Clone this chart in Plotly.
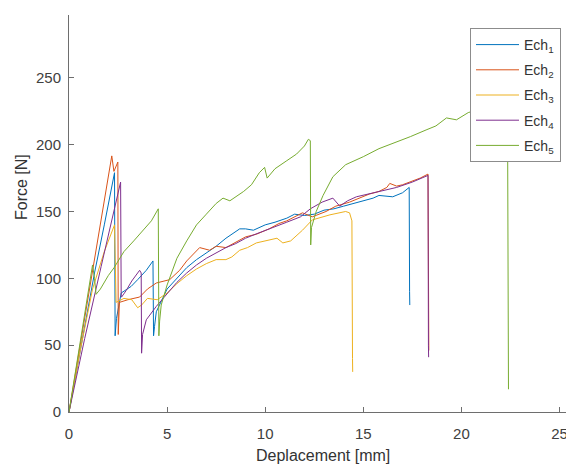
import plotly.graph_objects as go

# ---- data ----
names = ["Ech<sub>1</sub>", "Ech<sub>2</sub>", "Ech<sub>3</sub>", "Ech<sub>4</sub>", "Ech<sub>5</sub>"]
colors = ["#0072BD", "#D95319", "#EDB120", "#7E2F8E", "#77AC30"]

ech1_x = [0, 0.6, 1.3, 1.8, 2.32, 2.35, 2.42, 2.66, 3.17, 3.5, 3.94, 4.28, 4.31, 4.36, 4.45, 5.0, 5.5, 6.0,
          6.5, 7.0, 7.5, 8.0, 8.5, 8.7, 9.0, 9.4, 10.0, 10.5, 11.1, 11.5, 12.0, 12.5, 13.0, 13.5, 14.0, 14.5,
          15.0, 15.5, 15.8, 16.5, 17.0, 17.34, 17.36, 17.37]
ech1_y = [0, 48, 104, 140, 179, 57, 70, 89, 94, 99, 106, 113, 57, 64, 75, 92, 100, 108,
          114, 119, 124, 130, 135, 137, 137, 136, 140, 142, 145, 148, 147, 148, 151, 152, 154, 156,
          158, 160, 162, 161, 164, 168, 90, 80]

ech2_x = [0, 0.6, 1.2, 1.8, 2.18, 2.29, 2.49, 2.51, 2.54, 2.57, 3.0, 3.6, 4.0, 4.45, 5.13, 5.64, 6.0, 6.66,
          7.17, 7.5, 8.0, 8.5, 9.0, 9.55, 10.2, 10.7, 11.1, 11.9, 12.4, 13.1, 13.6, 14.3, 14.8, 15.3, 15.8,
          16.2, 16.35, 16.7, 17.0, 17.4, 17.9, 18.3, 18.32, 18.33, 18.34]
ech2_y = [0, 53, 106, 158, 191.6, 180, 187, 58, 70, 82, 84, 86, 92, 96.5, 99, 106, 113, 123,
          121, 124, 123, 127, 131, 133, 137, 141, 143, 149, 146, 150, 154, 157, 160, 163, 165,
          168, 171, 169, 170, 172, 175, 178, 60, 65, 46]

ech3_x = [0, 0.6, 1.2, 1.8, 2.32, 2.36, 2.4, 2.8, 3.2, 3.5, 3.7, 4.0, 4.5, 5.0, 5.5, 6.0, 6.5, 7.0, 7.5,
          8.0, 8.3, 8.7, 9.1, 9.55, 10.2, 10.6, 10.9, 11.3, 11.9, 12.4, 13.3, 14.1, 14.3, 14.42, 14.45, 14.46]
ech3_y = [0, 48, 92, 120, 140, 110, 82, 85, 84, 78, 80, 85, 84, 89, 96, 102, 107, 111, 114,
          114, 116, 121, 123, 126.5, 129, 130, 126.5, 128, 136, 143.7, 147.5, 150, 149, 143, 40, 30]

ech4_x = [0, 0.8, 1.64, 2.2, 2.63, 2.66, 2.68, 2.92, 3.2, 3.5, 3.6, 3.68, 3.7, 3.75, 3.94, 4.45, 5.0, 5.5,
          6.0, 6.5, 7.0, 7.5, 8.0, 8.5, 9.0, 9.5, 10.0, 10.6, 11.1, 11.8, 12.3, 12.9, 13.45, 13.8, 14.2,
          14.65, 15.2, 15.84, 16.7, 17.5, 18.3, 18.32, 18.33]
ech4_y = [0, 55, 109, 145, 172, 86, 86, 91, 98, 104, 106, 104, 44, 58, 69, 79, 88, 97,
          104, 110, 115, 119, 123, 126, 130, 133, 136, 139, 142, 146, 152, 157, 160, 154, 158,
          161, 163, 165, 168, 172, 177, 50, 41]

ech5_x = [0, 0.6, 1.2, 1.3, 1.38, 1.6, 2.0, 2.3, 2.8, 3.3, 3.8, 4.2, 4.55, 4.58, 4.62, 4.7, 5.0, 5.5, 6.0,
          6.5, 7.0, 7.5, 7.85, 8.2, 8.9, 9.3, 9.7, 9.97, 10.1, 10.5, 11.1, 11.6, 12.0, 12.2, 12.3, 12.32,
          12.36, 12.6, 12.95, 13.45, 14.1, 15.0, 15.8, 16.7, 17.4, 18.2, 18.7, 19.24, 19.75, 20.35, 21.0,
          21.7, 22.35, 22.4]
ech5_y = [0, 55, 110, 100, 88, 92, 102, 108, 120, 128, 136, 143, 152, 57, 68, 80, 95, 115, 128,
          140, 148, 156, 160, 158, 165, 170, 179, 183, 175, 182, 188, 193, 199, 204, 203, 125,
          138, 150, 162, 176, 185, 191, 197, 202, 206, 211, 214, 220, 218.6, 224, 227,
          230, 233, 17]

x_ticks = [0, 5, 10, 15, 20, 25]
y_ticks = [0, 50, 100, 150, 200, 250]
x_title = "Deplacement [mm]"
y_title = "Force [N]"

series = [(ech1_x, ech1_y), (ech2_x, ech2_y), (ech3_x, ech3_y), (ech4_x, ech4_y), (ech5_x, ech5_y)]

FONT = "Liberation Sans, Arial, sans-serif"
AXC = "#6e6e6e"

fig = go.Figure()
for i, (xs, ys) in enumerate(series):
    fig.add_trace(go.Scatter(x=xs, y=ys, mode="lines", name=names[i], legendgroup=str(i),
                             line=dict(color=colors[i], width=1)))

# The page body has an 8px default margin, so the figure is shrunk by 8px
# and the margins are reduced by 8px to land the axes where the reference has them.
OFF = 8
W, H = 574 - OFF, 466 - OFF
L, R, T, B = 69 - OFF, 0, 15 - OFF, 54
PW, PH = W - L - R, H - T - B


def px_x(p):   # page pixel -> paper x
    return (p - OFF - L) / PW


def px_y(p):   # page pixel -> paper y
    return 1 - (p - OFF - T) / PH


fig.update_layout(
    width=W, height=H,
    margin=dict(l=L, r=R, t=T, b=B),
    paper_bgcolor="white", plot_bgcolor="white",
    font=dict(family=FONT, size=15, color="#404040"),
    showlegend=True,
    legend=dict(x=px_x(470), y=px_y(28), xanchor="left", yanchor="top",
                bgcolor="white", bordercolor="#8c8c8c", borderwidth=1,
                font=dict(family=FONT, size=14, color="#333333"),
                traceorder="grouped", tracegroupgap=4, itemwidth=43),
    xaxis=dict(range=[0, 25.74], tickvals=x_ticks, ticks="inside", ticklen=5, tickcolor=AXC,
               showline=True, linecolor=AXC, linewidth=1, showgrid=False, zeroline=False,
               tickfont=dict(size=15, color="#404040"), ticklabelstandoff=8),
    yaxis=dict(range=[0, 297], tickvals=y_ticks, ticks="inside", ticklen=5, tickcolor=AXC,
               showline=True, linecolor=AXC, linewidth=1, showgrid=False, zeroline=False,
               tickfont=dict(size=15, color="#404040"), ticklabelstandoff=4),
    annotations=[
        dict(text=x_title, xref="paper", yref="paper", x=px_x(323), y=px_y(455),
             xanchor="center", yanchor="middle",
             showarrow=False, font=dict(size=16, color="#333333")),
        dict(text=y_title, xref="paper", yref="paper", x=px_x(21), y=px_y(187),
             xanchor="center", yanchor="middle", textangle=-90,
             showarrow=False, font=dict(size=16, color="#333333")),
    ],
)

fig.write_html("out.html")
